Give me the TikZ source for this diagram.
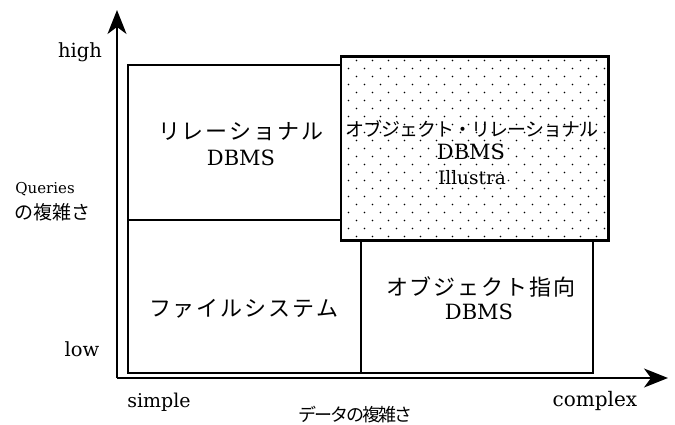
\documentclass[tikz,border=0pt]{standalone}
\usepackage{fontspec}
\setmainfont{DejaVu Serif}
\newfontfamily\jp{Noto Sans CJK JP}
\usetikzlibrary{arrows.meta}
\makeatletter
\newcommand\pitched[2]{\def\pt@w{#1}\@tfor\pt@c:=#2\do{\makebox[\pt@w]{\pt@c}}}
\makeatother
\tikzset{
  box/.style={draw=black, line width=1.5pt, inner sep=0pt, fill=white},
  axis/.style={line width=1.6pt, -{Stealth[length=24pt,width=19pt,inset=7pt]}},
  lbl/.style={inner sep=0pt, font=\fontsize{20}{20}\selectfont},
  jlbl/.style={inner sep=0pt, font=\jp\fontsize{22}{22}\selectfont},
}
\begin{document}
\begin{tikzpicture}[x=1pt,y=-1pt]
\useasboundingbox (0,0) rectangle (675,425);
% axes
\coordinate (origin) at (117,378);
\coordinate (ytip) at (117,10);
\coordinate (xtip) at (668,378);
\draw[axis] (origin) -- (ytip);
\draw[axis] (origin) -- (xtip);
% boxes
\node[box, minimum width=213pt, minimum height=155pt] (rel) at (234.5,142.5) {};
\node[box, minimum width=233pt, minimum height=153pt] (file) at (244.5,296.5) {};
\node[box, minimum width=232pt, minimum height=133pt] (oo) at (477,306.5) {};
\node[box, minimum width=267pt, minimum height=183pt] (ordb) at (474.5,148.5) {};
\begin{scope}
\clip (ordb.south west) rectangle (ordb.north east);
\foreach \j in {0,2,...,22} \foreach \i in {0,...,15}
  \fill (356.5+16*\i, 60.5+8*\j) circle[radius=0.8pt];
\foreach \j in {1,3,...,21} \foreach \i in {0,...,16}
  \fill (348.5+16*\i, 60.5+8*\j) circle[radius=0.8pt];
\end{scope}
\draw[line width=1.5pt] (ordb.south west) rectangle (ordb.north east);
% box texts
\node[jlbl] (relt) at (241,132) {\pitched{24pt}{リレーショナル}};
\node[lbl, font=\fontsize{21}{21}\selectfont] (reld) at (241,158) {DBMS};
\node[jlbl, font=\jp\fontsize{19}{19}\selectfont] (ordbt) at (472,129) {\pitched{18pt}{オブジェクト・リレーショナル}};
\node[lbl, font=\fontsize{21}{21}\selectfont] (ordbd) at (471,152) {DBMS};
\node[lbl, font=\fontsize{18.5}{18.5}\selectfont] (ordbi) at (472,178) {Illustra};
\node[jlbl] (filet) at (244,309) {\pitched{24pt}{ファイルシステム}};
\node[jlbl] (oot) at (481,287) {\pitched{24pt}{オブジェクト指向}};
\node[lbl, font=\fontsize{21}{21}\selectfont] (ood) at (479,312) {DBMS};
% axis labels
\node[lbl, font=\fontsize{19.5}{19.5}\selectfont] (high) at (80,52) {high};
\node[lbl, font=\fontsize{15}{15}\selectfont] (queries) at (45,189) {Queries};
\node[jlbl, font=\jp\fontsize{19}{19}\selectfont] (qcomp) at (52,212) {\pitched{19pt}{の複雑さ}};
\node[lbl, font=\fontsize{19.5}{19.5}\selectfont] (low) at (82,349) {low};
\node[lbl, font=\fontsize{19}{19}\selectfont] (simple) at (159,402) {simple};
\node[lbl, font=\fontsize{20}{20}\selectfont] (complex) at (595,401) {complex};
\node[jlbl, font=\jp\fontsize{18}{18}\selectfont] (dcomp) at (355,415) {\pitched{16pt}{データの複雑さ}};
\end{tikzpicture}
\end{document}
